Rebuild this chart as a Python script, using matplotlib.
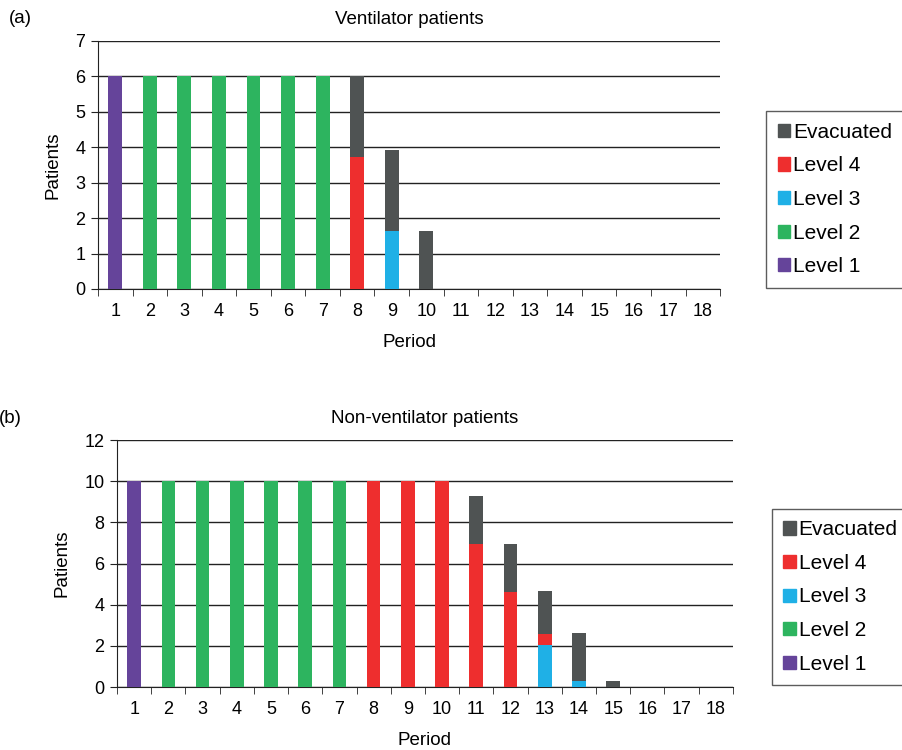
import numpy as np
import matplotlib.pyplot as plt
from matplotlib.patches import Patch

plt.rcParams['font.family'] = ['Liberation Sans', 'DejaVu Sans']
plt.rcParams['font.size'] = 13

periods = list(range(1, 19))
series = ["Level 1", "Level 2", "Level 3", "Level 4", "Evacuated"]
colors = {"Level 1": "#65449a", "Level 2": "#2db45f", "Level 3": "#1fb0e6",
          "Level 4": "#ee2e2e", "Evacuated": "#4f5353"}

# ventilator patients (a)
vent = {
    "Level 1":   [6, 0, 0, 0, 0, 0, 0, 0, 0, 0, 0, 0, 0, 0, 0, 0, 0, 0],
    "Level 2":   [0, 6, 6, 6, 6, 6, 6, 0, 0, 0, 0, 0, 0, 0, 0, 0, 0, 0],
    "Level 3":   [0, 0, 0, 0, 0, 0, 0, 0, 1.64, 0, 0, 0, 0, 0, 0, 0, 0, 0],
    "Level 4":   [0, 0, 0, 0, 0, 0, 0, 3.72, 0, 0, 0, 0, 0, 0, 0, 0, 0, 0],
    "Evacuated": [0, 0, 0, 0, 0, 0, 0, 2.28, 2.29, 1.64, 0, 0, 0, 0, 0, 0, 0, 0],
}

# non-ventilator patients (b)
nonvent = {
    "Level 1":   [10, 0, 0, 0, 0, 0, 0, 0, 0, 0, 0, 0, 0, 0, 0, 0, 0, 0],
    "Level 2":   [0, 10, 10, 10, 10, 10, 10, 0, 0, 0, 0, 0, 0, 0, 0, 0, 0, 0],
    "Level 3":   [0, 0, 0, 0, 0, 0, 0, 0, 0, 0, 0, 0, 2.03, 0.28, 0, 0, 0, 0],
    "Level 4":   [0, 0, 0, 0, 0, 0, 0, 10, 10, 10, 6.94, 4.62, 0.55, 0, 0, 0, 0, 0],
    "Evacuated": [0, 0, 0, 0, 0, 0, 0, 0, 0, 0, 2.32, 2.32, 2.09, 2.36, 0.28, 0, 0, 0],
}


def draw_panel(ax, data, ymax, ystep, title, label, legend_pos):
    x = np.arange(len(periods))
    bottom = np.zeros(len(periods))
    for s in series:
        vals = np.array(data[s])
        ax.bar(x, vals, width=0.4, bottom=bottom, color=colors[s], zorder=3)
        bottom += vals
    ax.set_xlim(-0.5, len(periods) - 0.5)
    ax.set_ylim(0, ymax)
    ax.set_yticks(np.arange(0, ymax + 0.1, ystep))
    ax.set_xticks(x)
    ax.set_xticklabels(periods)
    ax.set_xticks(np.arange(-0.5, len(periods)), minor=True)
    ax.tick_params(axis='x', which='major', length=0, pad=10)
    ax.tick_params(axis='x', which='minor', length=5, direction='out', color='#222')
    ax.tick_params(axis='y', length=5, direction='out', color='#222', pad=4)
    ax.yaxis.grid(True, color='#222', linewidth=1, zorder=0)
    ax.set_axisbelow(True)
    for sp in ['top', 'right']:
        ax.spines[sp].set_visible(False)
    ax.spines['left'].set_color('#222')
    ax.spines['bottom'].set_color('#222')
    ax.set_title(title, fontsize=13.5, pad=12)
    ax.set_xlabel("Period", fontsize=13.5, labelpad=10)
    ax.set_ylabel("Patients", fontsize=13.5, labelpad=10)
    handles = [Patch(color=colors[s], label=s) for s in reversed(series)]
    leg = ax.figure.legend(handles=handles, loc='center left', bbox_to_anchor=legend_pos,
                           frameon=True, fancybox=False, handlelength=0.6, handleheight=0.6,
                           handletextpad=0.15, labelspacing=0.7, borderpad=0.55, fontsize=15)
    leg.get_frame().set_edgecolor('#333')
    leg.get_frame().set_linewidth(1)
    ax.figure.text(label[0], label[1], label[2], fontsize=13.5, ha='left', va='center')


fig = plt.figure(figsize=(9.03, 7.5), dpi=100)
ax1 = fig.add_axes([0.1085, 0.6147, 0.689, 0.3307])
ax2 = fig.add_axes([0.1296, 0.084, 0.682, 0.3293])

draw_panel(ax1, vent, 7, 1, "Ventilator patients", (0.010, 0.975, "(a)"), (0.837, 0.734))
draw_panel(ax2, nonvent, 12, 2, "Non-ventilator patients", (-0.001, 0.442, "(b)"), (0.843, 0.204))

fig.savefig("out.png", dpi=100)
